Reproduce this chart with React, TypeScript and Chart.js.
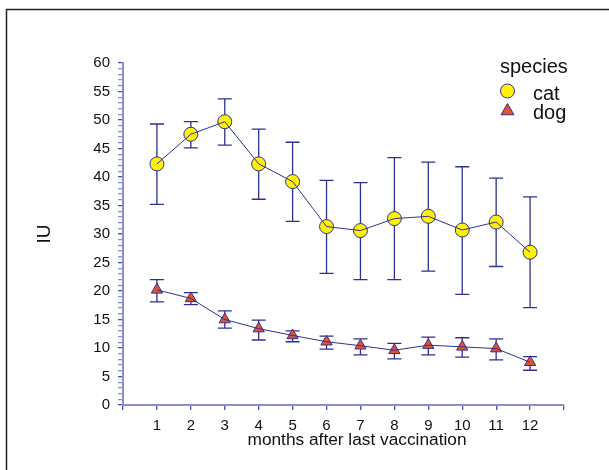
import React, { useEffect, useRef } from "react";
import { Chart, registerables } from "chart.js";

Chart.register(...registerables);

const months = [1, 2, 3, 4, 5, 6, 7, 8, 9, 10, 11, 12];
const catMean = [42.3, 47.5, 49.7, 42.3, 39.2, 31.3, 30.6, 32.7, 33.1, 30.7, 32.1, 26.8];
const catUpper = [49.3, 49.7, 53.7, 48.4, 46.1, 39.4, 39.0, 43.4, 42.6, 41.8, 39.8, 36.5];
const catLower = [35.2, 45.1, 45.6, 36.1, 32.2, 23.1, 22.0, 22.0, 23.5, 19.4, 24.3, 17.1];
const dogMean = [20.2, 18.7, 15.0, 13.4, 12.2, 11.1, 10.4, 9.6, 10.5, 10.2, 9.9, 7.5];
const dogUpper = [22.0, 19.7, 16.5, 14.9, 13.0, 12.1, 11.6, 10.8, 11.9, 11.8, 11.6, 8.5];
const dogLower = [18.1, 17.6, 13.5, 11.4, 11.1, 9.8, 8.8, 8.1, 8.8, 8.4, 7.9, 6.1];
const seriesNames = ["cat", "dog"];
const legendTitle = "species";
const xTitle = "months after last vaccination";
const yTitle = "IU";

const NAVY = "#2e3192";
const AXIS = "#8c8fcf";
const AXIS_MAJOR = "#4b50a8";
const YELLOW = "#fff200";
const RED = "#e8512d";
const FONT = "'Liberation Sans', Arial, Helvetica, sans-serif";

const pts = (ys: number[]) => months.map((m, i) => ({ x: m, y: ys[i] }));

const App = () => {
  const ref = useRef<HTMLCanvasElement | null>(null);

  useEffect(() => {
    if (!ref.current) return;

    const errorBars = {
      id: "errorBars",
      beforeDatasetsDraw(chart: any) {
        const { ctx, scales } = chart;
        const xs = scales.x;
        const ys = scales.y;
        ctx.save();
        ctx.strokeStyle = NAVY;
        ctx.lineWidth = 1.3;
        const groups = [
          [catUpper, catLower],
          [dogUpper, dogLower],
        ];
        groups.forEach(([up, lo]) => {
          months.forEach((m, i) => {
            const x = xs.getPixelForValue(m);
            const y1 = ys.getPixelForValue(up[i]);
            const y2 = ys.getPixelForValue(lo[i]);
            ctx.beginPath();
            ctx.moveTo(x, y1);
            ctx.lineTo(x, y2);
            ctx.moveTo(x - 7, y1);
            ctx.lineTo(x + 7, y1);
            ctx.moveTo(x - 7, y2);
            ctx.lineTo(x + 7, y2);
            ctx.stroke();
          });
        });
        ctx.restore();
      },
    };

    const decor = {
      id: "decor",
      afterDraw(chart: any) {
        const { ctx } = chart;
        ctx.save();
        // frame
        ctx.strokeStyle = "#222";
        ctx.lineWidth = 1.5;
        ctx.strokeRect(6.5, 9.5, 800, 800);
        // x axis title
        ctx.fillStyle = "#111";
        ctx.font = `17.3px ${FONT}`;
        ctx.textAlign = "center";
        ctx.textBaseline = "alphabetic";
        ctx.fillText(xTitle, 357, 445);
        // legend
        ctx.font = `20px ${FONT}`;
        ctx.textAlign = "left";
        ctx.fillText(legendTitle, 500, 73);
        ctx.fillText(seriesNames[0], 533, 100);
        ctx.fillText(seriesNames[1], 533, 119);
        // circle
        ctx.beginPath();
        ctx.arc(507.5, 91, 7, 0, Math.PI * 2);
        ctx.fillStyle = YELLOW;
        ctx.fill();
        ctx.strokeStyle = NAVY;
        ctx.lineWidth = 1;
        ctx.stroke();
        // triangle
        const cx = 507.5, cy = 111, r = 7.5;
        ctx.beginPath();
        for (let k = 0; k < 3; k++) {
          const a = (k * 2 * Math.PI) / 3;
          const px = cx + Math.sin(a) * r;
          const py = cy - Math.cos(a) * r;
          if (k === 0) ctx.moveTo(px, py);
          else ctx.lineTo(px, py);
        }
        ctx.closePath();
        ctx.fillStyle = RED;
        ctx.fill();
        ctx.strokeStyle = NAVY;
        ctx.stroke();
        ctx.restore();
      },
    };

    const chart = new Chart(ref.current, {
      type: "scatter",
      data: {
        datasets: [
          {
            label: seriesNames[0] + " line",
            data: pts(catMean),
            showLine: true,
            borderColor: NAVY,
            borderWidth: 1,
            pointRadius: 0,
            order: 0,
          },
          {
            label: seriesNames[1] + " line",
            data: pts(dogMean),
            showLine: true,
            borderColor: NAVY,
            borderWidth: 1,
            pointRadius: 0,
            order: 0,
          },
          {
            label: seriesNames[0],
            data: pts(catMean),
            showLine: false,
            pointStyle: "circle",
            pointRadius: 7,
            pointBackgroundColor: YELLOW,
            pointBorderColor: NAVY,
            pointBorderWidth: 1,
            order: 1,
          },
          {
            label: seriesNames[1],
            data: pts(dogMean),
            showLine: false,
            pointStyle: "triangle",
            pointRadius: 6.5,
            pointBackgroundColor: RED,
            pointBorderColor: NAVY,
            pointBorderWidth: 1,
            order: 1,
          },
        ],
      },
      options: {
        responsive: false,
        animation: false,
        layout: { padding: { left: 0, top: 63, right: 45, bottom: 0 } },
        plugins: {
          legend: { display: false },
          tooltip: { enabled: false },
        },
        scales: {
          x: {
            type: "linear",
            min: 0,
            max: 13,
            afterFit: (s: any) => {
              s.height = 65;
            },
            ticks: {
              stepSize: 1,
              autoSkip: false,
              maxRotation: 0,
              padding: 7,
              color: "#111",
              font: { family: FONT, size: 15 },
              callback: (v: any) => (v >= 1 && v <= 12 ? String(v) : ""),
            },
            grid: {
              drawOnChartArea: false,
              drawTicks: true,
              tickLength: 5,
              color: AXIS_MAJOR,
              lineWidth: 1.3,
            },
            border: { color: AXIS, width: 2 },
            title: { display: false, text: xTitle },
          },
          y: {
            type: "linear",
            min: 0,
            max: 60,
            afterFit: (s: any) => {
              s.width = 123;
            },
            ticks: {
              stepSize: 1,
              autoSkip: false,
              padding: 8,
              color: "#111",
              font: { family: FONT, size: 15 },
              callback: (v: any) => (v % 5 === 0 ? String(v) : ""),
            },
            grid: {
              drawOnChartArea: false,
              drawTicks: true,
              tickLength: 5,
              color: (c: any) => (c.tick && c.tick.value % 5 === 0 ? AXIS_MAJOR : AXIS),
              lineWidth: 1.3,
            },
            border: { color: AXIS, width: 2 },
            title: {
              display: true,
              text: yTitle,
              color: "#111",
              font: { family: FONT, size: 19 },
              padding: { top: 33, bottom: 0 },
            },
          },
        },
      },
      plugins: [errorBars, decor],
    } as any);

    return () => chart.destroy();
  }, []);

  return (
    <div style={{ position: "absolute", left: 0, top: 0, width: 609, height: 470, background: "#fff" }}>
      <canvas ref={ref} width={609} height={470} style={{ display: "block" }} />
    </div>
  );
};

export default App;
